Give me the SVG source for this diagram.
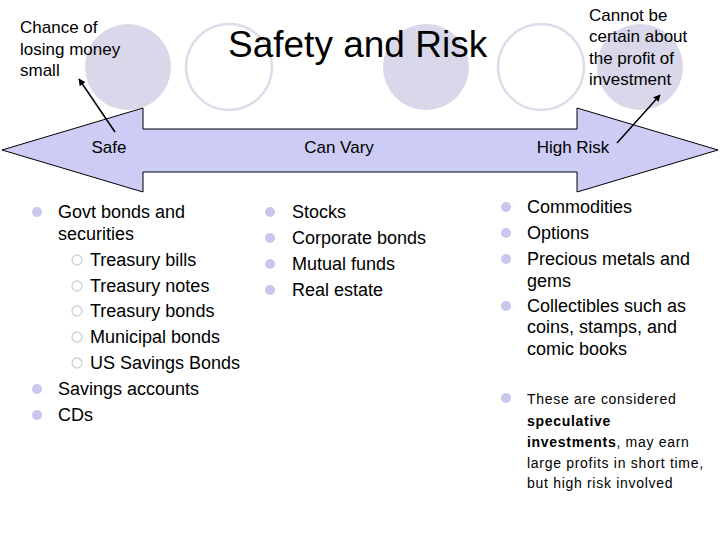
<svg xmlns="http://www.w3.org/2000/svg" width="720" height="540" viewBox="0 0 720 540">
<style>
  text { font-family: "Liberation Sans", Arial, sans-serif; fill: #000; }
  .deco-f { fill: #d8d8ea; }
  .deco-o { fill: none; stroke: #dcdcea; stroke-width: 2.5; }
  .title { font-size: 37px; }
  .lbl { font-size: 17px; }
  .li { font-size: 18px; }
  .sm { font-size: 14px; letter-spacing: 0.7px; }
  .b1 { fill: #c8c8ee; }
  .b2 { fill: none; stroke: #d0d0d8; stroke-width: 1.3; }
  .conn { stroke: #000; stroke-width: 1.5; fill: none; }
</style>
<defs>
  <marker id="ah" viewBox="0 0 10 10" refX="9" refY="5" markerWidth="7" markerHeight="7" orient="auto" markerUnits="userSpaceOnUse">
    <path d="M0,0 L10,5 L0,10 z" fill="#000"/>
  </marker>
</defs>
<rect width="720" height="540" fill="#fff"/>
<g id="decor">
  <circle class="deco-f" cx="128" cy="67" r="43"/>
  <circle class="deco-o" cx="229" cy="67" r="43"/>
  <circle class="deco-f" cx="426" cy="67" r="43"/>
  <circle class="deco-o" cx="541" cy="67" r="43"/>
  <circle class="deco-f" cx="640" cy="67" r="43"/>
</g>
<g id="title"><text class="title" x="228" y="57">Safety and Risk</text></g>
<g id="arrow">
  <path d="M2,150 L143,108 L143,129 L577,129 L577,108 L718,150 L577,192 L577,172 L143,172 L143,192 Z" fill="#ccccf5" stroke="#000" stroke-width="1"/>
  <text class="lbl" x="109" y="153" text-anchor="middle">Safe</text>
  <text class="lbl" x="339" y="153" text-anchor="middle">Can Vary</text>
  <text class="lbl" x="573" y="153" text-anchor="middle">High Risk</text>
</g>
<g id="note-left">
  <text class="lbl" x="20" y="33">Chance of</text>
  <text class="lbl" x="20" y="55">losing money</text>
  <text class="lbl" x="20" y="76">small</text>
</g>
<g id="note-right">
  <text class="lbl" x="589" y="21">Cannot be</text>
  <text class="lbl" x="589" y="42">certain about</text>
  <text class="lbl" x="589" y="64">the profit of</text>
  <text class="lbl" x="589" y="85">investment</text>
</g>
<g id="connectors">
  <line class="conn" x1="115" y1="132" x2="79" y2="79" marker-end="url(#ah)"/>
  <line class="conn" x1="617" y1="143" x2="660" y2="95" marker-end="url(#ah)"/>
</g>
<g id="list-safe">
  <circle class="b1" cx="37" cy="212" r="5"/>
  <text class="li" x="58" y="218">Govt bonds and</text>
  <text class="li" x="58" y="240">securities</text>
  <circle class="b2" cx="77" cy="260" r="5"/>
  <text class="li" x="90" y="266">Treasury bills</text>
  <circle class="b2" cx="77" cy="286" r="5"/>
  <text class="li" x="90" y="292">Treasury notes</text>
  <circle class="b2" cx="77" cy="311" r="5"/>
  <text class="li" x="90" y="317">Treasury bonds</text>
  <circle class="b2" cx="77" cy="337" r="5"/>
  <text class="li" x="90" y="343">Municipal bonds</text>
  <circle class="b2" cx="77" cy="363" r="5"/>
  <text class="li" x="90" y="369">US Savings Bonds</text>
  <circle class="b1" cx="37" cy="389" r="5"/>
  <text class="li" x="58" y="395">Savings accounts</text>
  <circle class="b1" cx="37" cy="415" r="5"/>
  <text class="li" x="58" y="421">CDs</text>
</g>
<g id="list-vary">
  <circle class="b1" cx="270" cy="212" r="5"/>
  <text class="li" x="292" y="218">Stocks</text>
  <circle class="b1" cx="270" cy="238" r="5"/>
  <text class="li" x="292" y="244">Corporate bonds</text>
  <circle class="b1" cx="270" cy="264" r="5"/>
  <text class="li" x="292" y="270">Mutual funds</text>
  <circle class="b1" cx="270" cy="290" r="5"/>
  <text class="li" x="292" y="296">Real estate</text>
</g>
<g id="list-risk">
  <circle class="b1" cx="506" cy="207" r="5"/>
  <text class="li" x="527" y="213">Commodities</text>
  <circle class="b1" cx="506" cy="233" r="5"/>
  <text class="li" x="527" y="239">Options</text>
  <circle class="b1" cx="506" cy="259" r="5"/>
  <text class="li" x="527" y="265">Precious metals and</text>
  <text class="li" x="527" y="287">gems</text>
  <circle class="b1" cx="506" cy="306" r="5"/>
  <text class="li" x="527" y="312">Collectibles such as</text>
  <text class="li" x="527" y="333">coins, stamps, and</text>
  <text class="li" x="527" y="355">comic books</text>
  <circle class="b1" cx="506" cy="398" r="5"/>
  <text class="sm" x="527" y="404">These are considered</text>
  <text class="sm" x="527" y="426" font-weight="bold">speculative</text>
  <text class="sm" x="527" y="447"><tspan font-weight="bold">investments</tspan>, may earn</text>
  <text class="sm" x="527" y="468">large profits in short time,</text>
  <text class="sm" x="527" y="488">but high risk involved</text>
</g>
</svg>
